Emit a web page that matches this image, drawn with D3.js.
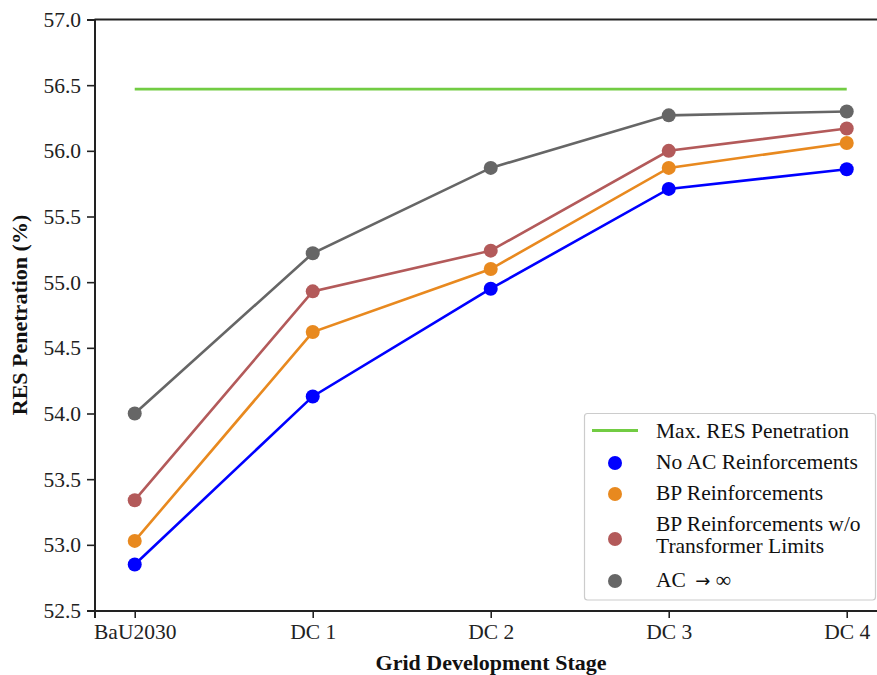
<!DOCTYPE html>
<html><head><meta charset="utf-8">
<script src="https://cdn.jsdelivr.net/npm/d3@7"></script>
<style>body{margin:0;background:#fff}svg{display:block}text{font-family:"Liberation Serif","Times New Roman",serif}</style>
</head><body><svg id="c" width="877" height="675"></svg>
<script>
const categories = ["BaU2030","DC 1","DC 2","DC 3","DC 4"];
const maxRES = 56.47;
const noAC = [52.85, 54.13, 54.95, 55.71, 55.86];
const bp = [53.03, 54.62, 55.10, 55.87, 56.06];
const bpNoTrafo = [53.34, 54.93, 55.24, 56.00, 56.17];
const acInf = [54.00, 55.22, 55.87, 56.27, 56.30];
const yTicks = [52.5,53.0,53.5,54.0,54.5,55.0,55.5,56.0,56.5,57.0];

const series = [
  {name:"No AC Reinforcements", values:noAC, color:"#0000ff"},
  {name:"BP Reinforcements", values:bp, color:"#e8891f"},
  {name:"BP Reinforcements w/o|Transformer Limits", values:bpNoTrafo, color:"#b35a5a"},
  {name:"AC  \u2192 \u221e", values:acInf, color:"#666666"}
];
const green = "#72cc43";
const FS = "21.5px";

const svg = d3.select("#c");
const L = 94.5, T = 19.5, B = 610.5;
const x = d3.scaleLinear().domain([-0.226, 4.226]).range([L, L + (4.452)*178]);
const y = d3.scaleLinear().domain([52.5, 57.0]).range([B, T]);

// axes
const gy = svg.append("g").attr("transform",`translate(${L},0)`)
  .call(d3.axisLeft(y).tickValues(yTicks).tickFormat(d3.format(".1f")).tickSize(7.5).tickPadding(6));
const gx = svg.append("g").attr("transform",`translate(0,${B})`)
  .call(d3.axisBottom(x).tickValues(d3.range(categories.length)).tickFormat(i=>categories[i]).tickSize(7.5).tickPadding(6));
[gx,gy].forEach(g=>{
  g.attr("font-family",null);
  g.selectAll("path.domain").attr("stroke","#222").attr("stroke-width",2);
  g.selectAll(".tick line").attr("stroke","#222").attr("stroke-width",1.6);
  g.selectAll(".tick text").attr("fill","#222").style("font-size",FS).style("font-family","Liberation Serif");
});
// top spine
svg.append("line").attr("x1",L).attr("x2",877).attr("y1",T).attr("y2",T).attr("stroke","#222").attr("stroke-width",2);

// max line
svg.append("line").attr("x1",x(0)).attr("x2",x(4)).attr("y1",y(maxRES)).attr("y2",y(maxRES))
  .attr("stroke",green).attr("stroke-width",2.8);

const line = d3.line().x((d,i)=>x(i)).y(d=>y(d));
series.forEach(s=>{
  svg.append("path").attr("d",line(s.values)).attr("fill","none").attr("stroke",s.color).attr("stroke-width",2.6);
  svg.selectAll(null).data(s.values).enter().append("circle")
    .attr("cx",(d,i)=>x(i)).attr("cy",d=>y(d)).attr("r",7).attr("fill",s.color);
});

// labels
svg.append("text").attr("x",491).attr("y",670).attr("text-anchor","middle")
  .style("font-size","22px").style("font-weight","bold").attr("fill","#111").text("Grid Development Stage");
svg.append("text").attr("transform",`translate(27,${(T+B)/2}) rotate(-90)`).attr("text-anchor","middle")
  .style("font-size","22px").style("font-weight","bold").attr("fill","#111").text("RES Penetration (%)");

// legend
const lg = svg.append("g");
lg.append("rect").attr("x",584.5).attr("y",413.5).attr("width",291).attr("height",186.5).attr("rx",3)
  .attr("fill","#fff").attr("stroke","#cccccc").attr("stroke-width",1.2);
const tx = 656;
lg.append("line").attr("x1",592).attr("x2",638).attr("y1",430.5).attr("y2",430.5).attr("stroke",green).attr("stroke-width",2.8);
lg.append("text").attr("x",tx).attr("y",438).style("font-size",FS).attr("fill","#111").text("Max. RES Penetration");
const ly = [463, 494, 539, 581];
const by = [469, 500, 531, 587];
series.forEach((s,i)=>{
  lg.append("circle").attr("cx",615).attr("cy",ly[i]).attr("r",7).attr("fill",s.color);
  const parts = s.name.split("|");
  const t = lg.append("text").attr("x",tx).attr("y",by[i]).style("font-size",FS).attr("fill","#111");
  if(parts.length===1){
    // render arrow with a font whose arrow glyph is larger
    const segs = parts[0].split("\u2192");
    t.append("tspan").text(segs[0]);
    if(segs.length>1){
      t.append("tspan").style("font-family","DejaVu Sans").style("font-size","18px").attr("dx",4).text("\u2192");
      t.append("tspan").text(segs[1]);
    }
  } else {
    parts.forEach((p,k)=>t.append("tspan").attr("x",tx).attr("dy",k===0?0:22).text(p));
  }
});
</script></body></html>
